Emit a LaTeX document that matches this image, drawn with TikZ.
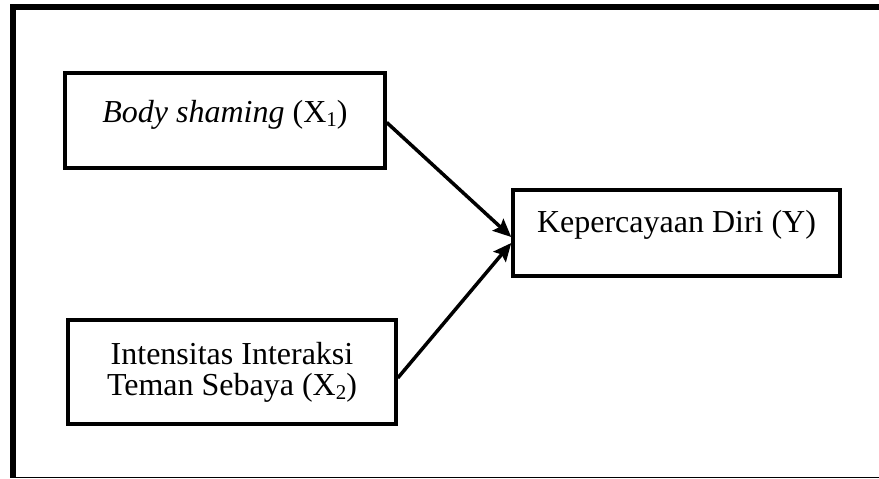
\documentclass[tikz,border=0pt]{standalone}
\usepackage{fontspec}
\setmainfont{Liberation Serif}
\usetikzlibrary{arrows.meta}
\newcommand{\lowsub}[1]{\raisebox{-4pt}{\fontsize{21}{21}\selectfont #1}}
\begin{document}
\begin{tikzpicture}[x=1pt,y=-1pt,
  varbox/.style={draw, line width=3.5pt, rectangle, inner sep=0pt, align=center,
    font=\fontsize{32}{31}\selectfont},
  conn/.style={line width=3.5pt, -{Stealth[length=18pt,width=16pt,inset=3pt]}},
  frameline/.style={line cap=butt}]
\useasboundingbox (0,0) rectangle (879,479);
% outer frame (right side not shown)
\draw[frameline, line width=6pt] (10,7) -- (879,7);
\draw[frameline, line width=6pt] (13,4) -- (13,478);
\draw[frameline, line width=1.5pt] (10,477.5) -- (879,477.5);
% nodes
\node[varbox, minimum width=320pt, minimum height=95pt, text height=25pt, text depth=22pt]
  (x1) at (225,120.5) {\textit{Body shaming} (X\lowsub{1})};
\node[varbox, minimum width=328pt, minimum height=104pt]
  (x2) at (232,372) {Intensitas Interaksi\\Teman Sebaya (X\lowsub{2})};
\node[varbox, minimum width=327pt, minimum height=86pt, text height=24pt, text depth=26pt]
  (y) at (676.5,233) {Kepercayaan Diri (Y)};
% connectors
\draw[conn] ([yshift=-2pt]x1.east) -- ([yshift=-4pt]y.west);
\draw[conn] ([yshift=-6pt]x2.east) -- ([yshift=-10pt]y.west);
\end{tikzpicture}
\end{document}
